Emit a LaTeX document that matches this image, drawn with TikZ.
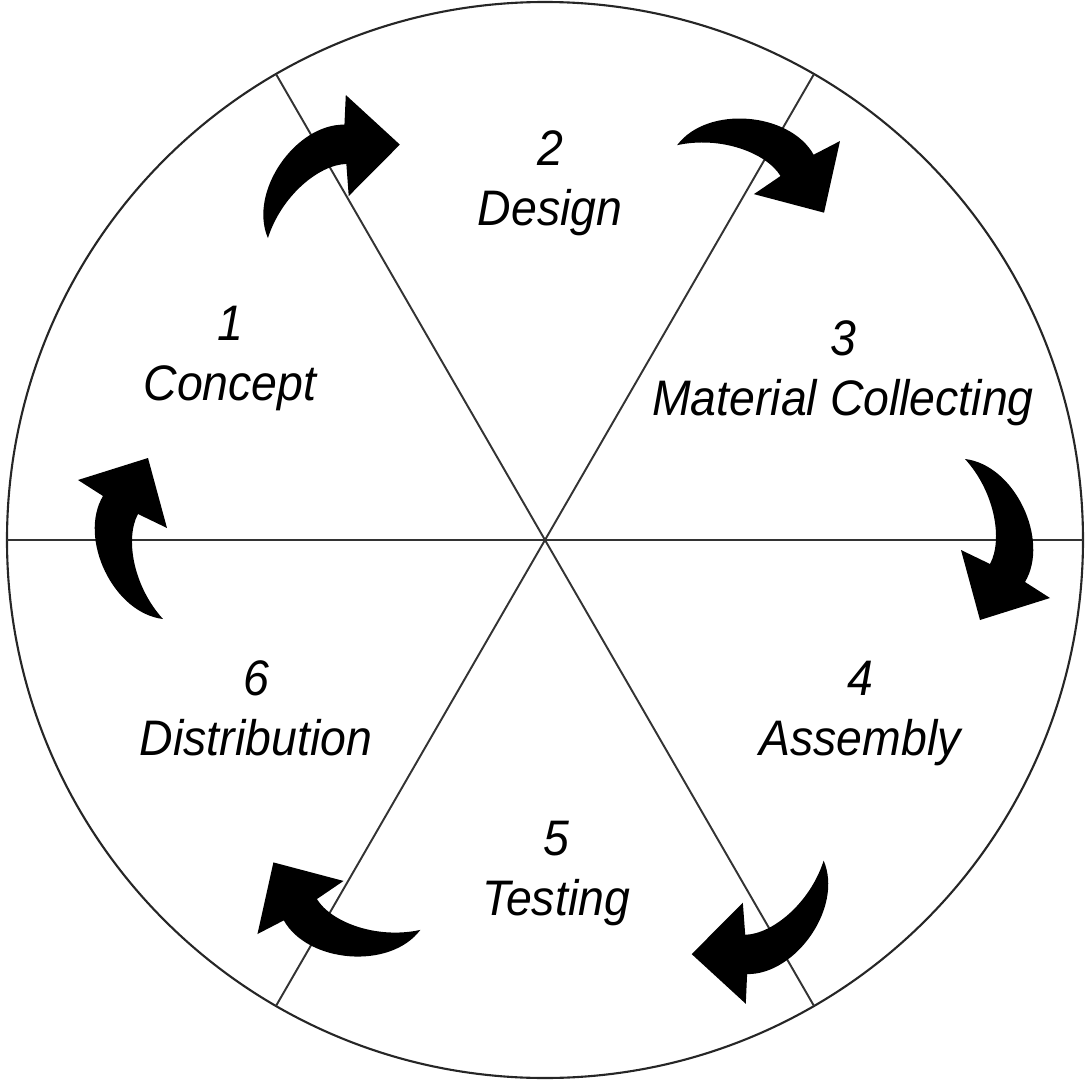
\documentclass[tikz,border=0pt]{standalone}
\usepackage{fontspec}
\setmainfont{Liberation Sans}[FakeStretch=0.93]
\begin{document}
\begin{tikzpicture}[x=0.1mm,y=0.1mm,
  ring/.style={draw=black!85,line width=0.6pt},
  spoke/.style={draw=black!80,line width=0.55pt},
  stage/.style={anchor=north,inner sep=0pt,align=center,
    font=\fontsize{14.2pt}{17.1pt}\selectfont\itshape},
  cycarrow/.pic={
    \fill[black] (420,81) .. controls (470,75) and (505,0) .. (480,-42)
      -- (505,-58) -- (435,-80) -- (416,-10) -- (445,-24)
      .. controls (458,0) and (450,48) .. (420,81) -- cycle;
  }]
\useasboundingbox (-545,-547) rectangle (542,540);
\coordinate (c) at (0,0);
\draw[ring] (c) circle (538);
\foreach \a in {0,60,120}{
  \draw[spoke] (\a:538) -- (\a+180:538);
}
% curved arrows, one per boundary, clockwise
\pic[rotate=0]   {cycarrow};
\pic[rotate=60,  shift={(-12,2)}]  {cycarrow};
\pic[rotate=120, shift={(-20,8)}]  {cycarrow};
\pic[rotate=180, shift={(-38,-2)}] {cycarrow};
\pic[rotate=240, shift={(-20,6)}]  {cycarrow};
\pic[rotate=300, shift={(-3,0)}]   {cycarrow};
% labels
\node[stage] (l1) at (-315,235) {1\\Concept};
\node[stage] (l2) at (5,410) {2\\Design};
\node[stage] (l3) at (298,220) {3\\Material Collecting};
\node[stage] (l4) at (315,-120) {4\\Assembly};
\node[stage] (l5) at (11,-280) {5\\Testing};
\node[stage] (l6) at (-289,-120) {6\\Distribution};
\end{tikzpicture}
\end{document}
